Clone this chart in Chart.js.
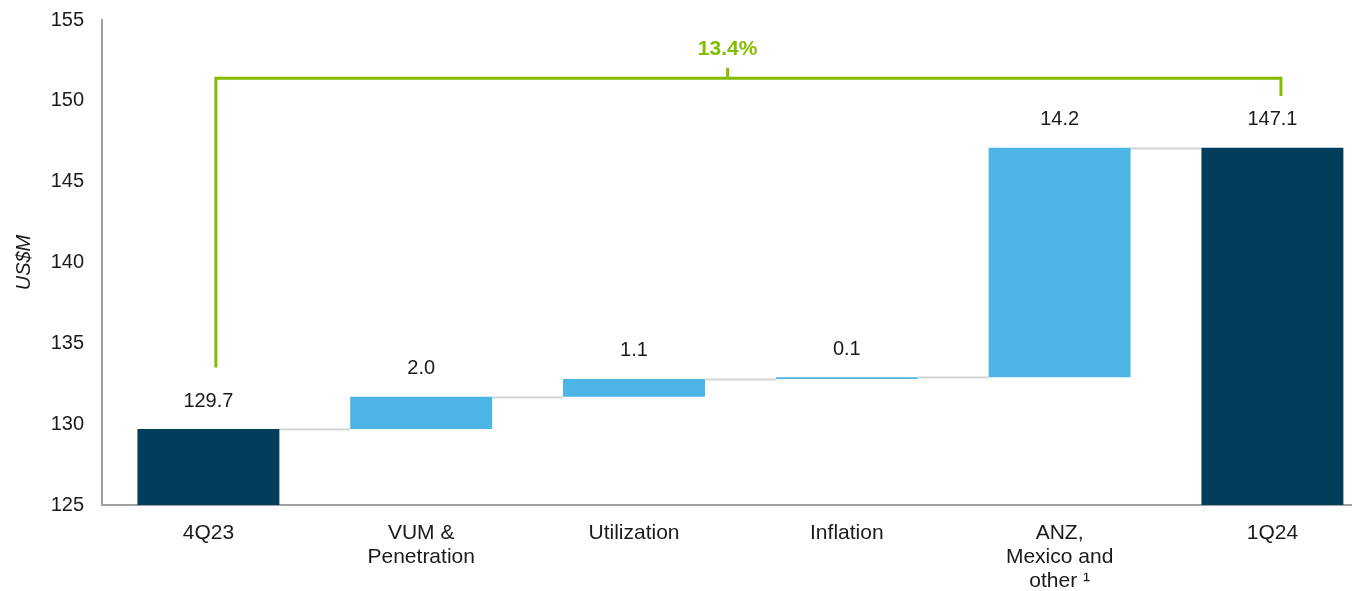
<!DOCTYPE html>
<html>
<head>
<meta charset="utf-8">
<script src="https://cdn.jsdelivr.net/npm/chart.js@4/dist/chart.umd.min.js"></script>
<style>
  html, body { margin: 0; padding: 0; background: #fff; }
  #wrap { width: 1352px; height: 591px; position: relative; }
</style>
</head>
<body>
<div id="wrap"><canvas id="c"></canvas></div>
<script>
// ---- data ----
const categories = ['4Q23', ['VUM &', 'Penetration'], 'Utilization', 'Inflation', ['ANZ,', 'Mexico and', 'other \u00B9'], '1Q24'];
const values = [129.7, 2.0, 1.1, 0.1, 14.2, 147.1];
const isTotal = [true, false, false, false, false, true];
const valueLabels = ['129.7', '2.0', '1.1', '0.1', '14.2', '147.1'];
const yTicks = [125, 130, 135, 140, 145, 150, 155];
const growthLabel = '13.4%';
// bracket: x positions in category units, levels in US$M
const bracketX = [0.035, 5.04, 2.44];
const bracketLevels = { leftBottom: 133.5, top: 151.4, rightBottom: 150.3, tickTop: 152.05, text: 153.2 };

const AXIS_MIN = 125, AXIS_MAX = 155;
const X_MIN = -0.5, X_MAX = 5.374;   // last category runs past the right edge
const DARK = '#023D5B', LIGHT = '#4DB4E6', GREEN = '#84BD00';
const FONT = "Arial, 'Liberation Sans', Helvetica, sans-serif";

// floating ranges derived from values
const ranges = [];
let running = 0;
values.forEach((v, i) => {
  if (isTotal[i]) { ranges.push([AXIS_MIN, v]); running = v; }
  else { ranges.push([running, running + v]); running = running + v; }
});
const points = ranges.map((r, i) => ({ x: i, y: r }));

const connectorPlugin = {
  id: 'connectors',
  beforeDatasetsDraw(chart) {
    const meta = chart.getDatasetMeta(0);
    const y = chart.scales.y;
    const ctx = chart.ctx;
    ctx.save();
    ctx.strokeStyle = '#D4D4D4';
    ctx.lineWidth = 2;
    for (let i = 0; i < meta.data.length - 1; i++) {
      const a = meta.data[i], b = meta.data[i + 1];
      const lvl = ranges[i][1];
      const py = Math.round(y.getPixelForValue(lvl)) + 0.5;
      ctx.beginPath();
      ctx.moveTo(a.x + a.width / 2, py);
      ctx.lineTo(b.x - b.width / 2, py);
      ctx.stroke();
    }
    ctx.restore();
  }
};

const labelPlugin = {
  id: 'valueLabels',
  afterDatasetsDraw(chart) {
    const meta = chart.getDatasetMeta(0);
    const y = chart.scales.y;
    const x = chart.scales.x;
    const ctx = chart.ctx;
    ctx.save();
    ctx.font = '20px ' + FONT;
    ctx.fillStyle = '#1A1A1A';
    ctx.textAlign = 'center';
    ctx.textBaseline = 'middle';
    meta.data.forEach((el, i) => {
      const top = y.getPixelForValue(ranges[i][1]);
      ctx.fillText(valueLabels[i], el.x, top - 28);
    });
    // bracket
    const xl = x.getPixelForValue(bracketX[0]);
    const xr = x.getPixelForValue(bracketX[1]);
    const xm = x.getPixelForValue(bracketX[2]);
    const yt = y.getPixelForValue(bracketLevels.top);
    ctx.strokeStyle = GREEN;
    ctx.lineWidth = 3;
    ctx.beginPath();
    ctx.moveTo(xl, y.getPixelForValue(bracketLevels.leftBottom));
    ctx.lineTo(xl, yt);
    ctx.lineTo(xr, yt);
    ctx.lineTo(xr, y.getPixelForValue(bracketLevels.rightBottom));
    ctx.moveTo(xm, yt);
    ctx.lineTo(xm, y.getPixelForValue(bracketLevels.tickTop));
    ctx.stroke();
    ctx.fillStyle = GREEN;
    ctx.font = 'bold 21px ' + FONT;
    ctx.fillText(growthLabel, xm, y.getPixelForValue(bracketLevels.text));
    ctx.restore();
  }
};

new Chart(document.getElementById('c'), {
  type: 'bar',
  data: {
    datasets: [{
      data: points,
      backgroundColor: isTotal.map(t => t ? DARK : LIGHT),
      borderWidth: 0,
      borderSkipped: false,
      barPercentage: 0.667,
      categoryPercentage: 1.0
    }]
  },
  options: {
    responsive: true,
    maintainAspectRatio: false,
    animation: false,
    layout: { padding: { top: 20, right: 0, left: 0, bottom: 0 } },
    plugins: { legend: { display: false }, tooltip: { enabled: false } },
    scales: {
      x: {
        type: 'linear',
        min: X_MIN,
        max: X_MAX,
        offset: false,
        afterBuildTicks(scale) { scale.ticks = categories.map((c, i) => ({ value: i })); },
        grid: { display: false, drawTicks: false },
        border: { display: true, color: '#A0A0A0', width: 2 },
        ticks: {
          color: '#1A1A1A',
          font: { family: FONT, size: 21, lineHeight: 1.15 },
          padding: 16,
          maxRotation: 0,
          autoSkip: false,
          callback: (v) => categories[v]
        },
        afterFit(scale) { scale.height = 86; scale.paddingLeft = 0; scale.paddingRight = 0; }
      },
      y: {
        min: AXIS_MIN,
        max: AXIS_MAX,
        afterBuildTicks(scale) { scale.ticks = yTicks.map(v => ({ value: v })); },
        grid: { display: false, drawTicks: false },
        border: { display: true, color: '#A0A0A0', width: 2 },
        ticks: {
          color: '#1A1A1A',
          font: { family: FONT, size: 20 },
          padding: 18
        },
        title: {
          display: true,
          text: 'US$M',
          color: '#1A1A1A',
          font: { family: FONT, size: 20, style: 'italic' },
          padding: { top: 12, bottom: 0 }
        },
        afterFit(scale) { scale.width = 102; scale.paddingTop = 0; scale.paddingBottom = 0; }
      }
    }
  },
  plugins: [connectorPlugin, labelPlugin]
});
</script>
</body>
</html>
